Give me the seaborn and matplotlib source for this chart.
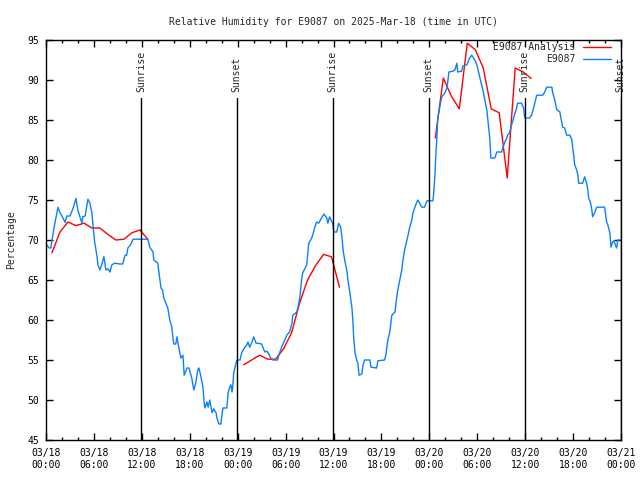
import numpy as np
import pandas as pd
import matplotlib
matplotlib.use("Agg")
import matplotlib.pyplot as plt
import matplotlib.dates as mdates
import seaborn as sns

# Station observations: hours after 2025-03-18 00:00 UTC, relative humidity (%)
obs_hours = [
    0.0, 0.4, 0.6, 1.0, 1.5, 1.75, 2.0, 2.4, 2.6, 3.0, 3.4, 3.75, 4.0, 4.25, 4.5,
    4.6, 4.9, 5.25, 5.5, 5.75, 5.9, 6.1, 6.4, 6.5, 6.75, 7.0, 7.25, 7.5, 7.75, 8.0,
    8.25, 8.6, 9.25, 9.6, 9.9, 10.1, 10.25, 10.6, 10.9, 12.75, 13.0, 13.4, 13.5,
    14.0, 14.1, 14.4, 14.6, 14.75, 15.1, 15.25, 15.5, 15.75, 15.9, 16.0, 16.25,
    16.4, 16.5, 16.75, 16.9, 17.15, 17.3, 17.65, 17.9, 18.25, 18.5, 18.75, 19.0,
    19.15, 19.4, 19.65, 19.8, 19.9, 20.15, 20.3, 20.5, 20.8, 21.0, 21.3, 21.4,
    21.65, 21.9, 22.0, 22.15, 22.65, 22.8, 23.0, 23.15, 23.3, 23.4, 23.5, 23.8,
    23.9, 24.3, 24.5, 24.9, 25.15, 25.3, 25.5, 25.8, 26.0, 26.3, 26.5, 27.0,
    27.15, 27.4, 27.65, 27.9, 28.15, 28.4, 29.0, 29.15, 29.5, 29.9, 30.15, 30.5,
    30.8, 30.9, 31.4, 31.55, 31.8, 32.0, 32.15, 32.65, 32.9, 33.15, 33.4, 33.65,
    33.9, 34.15, 34.5, 34.8, 35.15, 35.3, 35.5, 35.9, 36.05, 36.4, 36.65, 36.9,
    37.05, 37.2, 37.4, 37.7, 37.8, 38.05, 38.3, 38.4, 38.55, 38.7, 38.9, 39.05,
    39.2, 39.55, 39.7, 39.9, 40.55, 40.7, 41.4, 41.55, 42.4, 42.55, 42.8, 43.05,
    43.3, 43.7, 43.9, 44.05, 44.3, 44.55, 44.7, 44.9, 45.2, 45.55, 45.8, 45.95,
    46.3, 46.55, 46.8, 47.05, 47.4, 47.7, 48.45, 48.55, 48.7, 48.8, 48.95, 49.05,
    49.3, 49.55, 49.95, 50.2, 50.3, 50.45, 50.95, 51.2, 51.45, 51.55, 52.05, 52.2,
    52.7, 53.05, 53.3, 53.7, 53.95, 54.3, 54.7, 55.2, 55.55, 55.7, 56.2, 56.45,
    57.05, 57.2, 57.45, 57.7, 57.8, 58.05, 58.3, 58.55, 58.95, 59.05, 59.55, 59.8,
    59.95, 60.55, 60.8, 61.05, 61.3, 61.45, 62.2, 62.45, 62.7, 63.35, 63.45, 63.7,
    63.95, 64.35, 64.45, 64.7, 64.95, 65.2, 65.6, 65.85, 65.95, 66.1, 66.2, 66.45,
    66.6, 66.7, 67.2, 67.45, 67.7, 67.85, 67.95, 68.2, 68.35, 68.45, 68.7, 68.95,
    69.95, 70.2, 70.35, 70.6, 70.75, 70.95, 71.1, 71.45, 71.6, 71.85,
]
obs_rh = [
    69.5, 69, 69, 71.5, 74.1, 73.4, 73, 72.2, 73, 73, 74, 75.2, 73.7, 72.9, 72.1,
    72.9, 73, 75.1, 74.6, 73.4, 71.6, 69.7, 67.9, 66.9, 66.25, 67, 67.9, 66.25, 66.4, 66,
    66.9, 67.1, 67, 67, 68.1, 68.1, 69, 69.4, 70.1, 70.1, 69.1, 68.5, 67.5,
    67.1, 66.25, 64, 63.75, 62.75, 61.9, 61.5, 60, 59.1, 57.75, 57, 57,
    57.9, 57.25, 55.9, 55.25, 55.6, 53.1, 54, 54, 52.75, 51.25, 52.1, 53.75,
    54, 52.9, 51.6, 49.75, 49, 49.75, 49.1, 50, 48.4, 48.9, 48.4, 47.75,
    47, 47, 47.9, 49, 49, 50.9, 51.6, 51.9, 51, 51.9, 53.4, 54.6,
    55, 55, 55.9, 56.6, 56.9, 57.25, 56.6, 57.25, 57.9, 57.1, 57.1, 57,
    56.6, 56, 56.1, 55.75, 55.25, 55, 55, 55.6, 56.6, 57.5, 58.1, 58.5,
    59.6, 60.6, 61, 61.6, 62.9, 65, 65.9, 66.9, 69.6, 70, 70.6, 71.6,
    72.25, 72.1, 72.75, 73.25, 72.75, 72.1, 72.9, 72.1, 71, 71, 72.1, 71.6,
    70.4, 68.75, 67.5, 66, 65, 63.4, 61.6, 60.25, 57.5, 55.9, 55, 54.6,
    53.1, 53.25, 54.4, 55, 55, 54.1, 54, 54.9, 55, 55.6, 57.5, 58.5,
    60.6, 61, 62.75, 63.75, 65, 66.25, 67.5, 68.75, 70, 71.6, 72.5, 73.4,
    74.4, 75, 74.6, 74.1, 74.1, 74.9, 74.9, 75.9, 78.1, 80.4, 82.9, 85.25,
    86.6, 87.9, 88.4, 89, 89.75, 91, 91.1, 91.25, 92.1, 91, 91.1, 91.75,
    91.9, 92.75, 93.1, 92.5, 91.9, 90.4, 88.75, 86.25, 82.9, 80.25, 80.25, 81,
    81, 81.5, 82.25, 82.75, 83.1, 83.4, 84.4, 85.25, 86.6, 87.1, 87.1, 86.5,
    85.25, 85.25, 85.6, 86.5, 87.5, 88.1, 88.1, 88.5, 89.1, 89.1, 88.4, 87.5,
    86.3, 86, 85.4, 84.1, 84, 83.1, 83.1, 82.5, 81.5, 80.4, 79.4, 78.75,
    78.1, 77.1, 77.1, 77.9, 77.1, 76.25, 75.25, 74.6, 73.75, 72.9, 73.4, 74.1,
    74.1, 72.25, 71.9, 70.9, 69.1, 69.75, 69.9, 69, 70, 70,
]

# Analysis: three 12-hour windows of hourly values
ana_start = [0.75, 24.75, 48.75]
ana_rh = [
    [68.4, 71.0, 72.25, 71.8, 72.1, 71.5, 71.5, 70.7, 70.0, 70.1, 70.9, 71.25, 70.1],
    [54.4, 55.0, 55.6, 55.1, 55.1, 56.4, 58.4, 62.1, 65.0, 66.8, 68.2, 67.9, 64.1],
    [82.75, 90.25, 88.0, 86.4, 94.6, 93.8, 91.5, 86.4, 85.9, 77.75, 91.5, 91.0, 90.2],
]

# Sunrise / sunset, hours after start
sun_hours = [11.9, 23.9, 35.92, 47.93, 59.95, 71.96]
sun_labels = ["Sunrise", "Sunset", "Sunrise", "Sunset", "Sunrise", "Sunset"]

BASE = pd.Timestamp("2025-03-18 00:00")
RED = "#ff0000"
BLUE = "#0a80ff"


def to_time(hours):
    return BASE + pd.to_timedelta(np.asarray(hours, dtype=float), unit="h")


sns.set_theme(style="ticks")
plt.rcParams["font.family"] = ["DejaVu Sans Mono"]
plt.rcParams["font.size"] = 7

fig = plt.figure(figsize=(6.4, 4.8), dpi=100)
ax = fig.add_axes([46 / 640, 40 / 480, 575 / 640, 400 / 480])

for i, (start, vals) in enumerate(zip(ana_start, ana_rh)):
    hrs = start + np.arange(len(vals))
    sns.lineplot(x=to_time(hrs), y=vals, ax=ax, color=RED, linewidth=1,
                 label="E9087 Analysis" if i == 0 else None, sort=False)

sns.lineplot(x=to_time(obs_hours), y=obs_rh, ax=ax, color=BLUE, linewidth=1,
             label="E9087", sort=False)

line_top = 87.75
for h, lab in zip(sun_hours, sun_labels):
    t = to_time([h])[0]
    ax.axvline(t, ymin=0, ymax=(line_top - 45) / 50, color="black", linewidth=1)
    ax.text(t, line_top + 0.7, lab, rotation=90, ha="center", va="bottom",
            fontsize=7, clip_on=False)

ax.set_xlim(BASE, BASE + pd.Timedelta(hours=72))
ax.set_ylim(45, 95)
ax.set_yticks(range(45, 96, 5))
ax.xaxis.set_major_locator(mdates.HourLocator(byhour=[0, 6, 12, 18]))
ax.xaxis.set_minor_locator(mdates.HourLocator(byhour=range(0, 24, 2)))
ax.xaxis.set_major_formatter(mdates.DateFormatter("%m/%d\n%H:%M"))
ax.tick_params(axis="both", which="both", direction="in", top=True, right=True,
               colors="black", labelsize=7)
ax.tick_params(axis="both", which="major", length=5, width=1)
ax.tick_params(axis="both", which="minor", length=2.5, width=1)
ax.tick_params(axis="x", pad=6)
ax.tick_params(axis="y", pad=5)
for sp in ax.spines.values():
    sp.set_color("black")
    sp.set_linewidth(1)

ax.set_xlabel("")
ax.set_ylabel("Percentage", fontsize=7, labelpad=8)
ax.set_title("Relative Humidity for E9087 on 2025-Mar-18 (time in UTC)",
             fontsize=7, pad=11)

ax.legend(loc="upper right", bbox_to_anchor=(0.982, 0.995), frameon=False,
          markerfirst=False, fontsize=7, handlelength=2.8, handletextpad=0.8,
          labelspacing=0.25, borderaxespad=0, borderpad=0)

fig.savefig("out.png", dpi=100)
